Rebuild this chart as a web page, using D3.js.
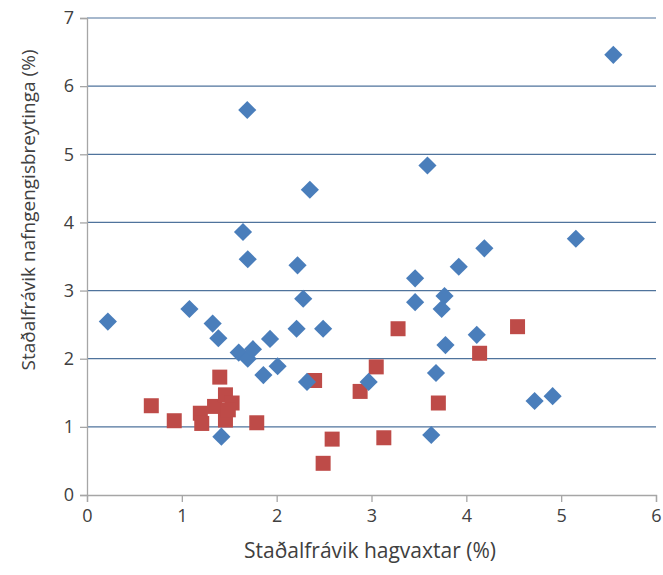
<!doctype html>
<html>
<head>
<meta charset="utf-8">
<script src="https://cdn.jsdelivr.net/npm/d3@7"></script>
<style>
  body { margin: 0; background: #fff; }
  text { font-family: "Open Sans", sans-serif; fill: #404040; }
</style>
</head>
<body>
<svg id="chart" width="663" height="575"></svg>
<script>
  // blue series (diamonds)
  var blueX = [0.22, 1.08, 1.325, 1.385, 1.417, 1.60, 1.695, 1.75, 1.93, 2.01, 1.86, 1.695, 2.22, 2.28, 2.21, 2.49, 2.32,
               1.69, 2.35, 1.645, 5.55, 3.59, 5.155, 4.19, 3.92, 3.46, 3.77, 3.46, 3.74, 4.11, 3.78, 3.68, 2.97, 4.72, 4.91, 3.63];
  var blueY = [2.545, 2.73, 2.515, 2.30, 0.856, 2.09, 2.00, 2.14, 2.29, 1.89, 1.76, 3.46, 3.37, 2.88, 2.44, 2.44, 1.66,
               5.65, 4.48, 3.86, 6.46, 4.835, 3.76, 3.62, 3.35, 3.18, 2.92, 2.83, 2.73, 2.35, 2.20, 1.79, 1.66, 1.38, 1.45, 0.88];

  // red series (squares)
  var redX = [0.678, 0.92, 1.40, 1.195, 1.21, 1.345, 1.46, 1.53, 1.46, 1.49, 1.79, 2.40, 2.585, 2.49, 2.88,
              3.28, 4.54, 4.14, 3.05, 3.705, 3.13];
  var redY = [1.31, 1.09, 1.73, 1.20, 1.05, 1.30, 1.47, 1.35, 1.10, 1.25, 1.06, 1.68, 0.82, 0.465, 1.52,
              2.44, 2.47, 2.08, 1.88, 1.35, 0.84];

  var xTicks = [0, 1, 2, 3, 4, 5, 6];
  var yTicks = [0, 1, 2, 3, 4, 5, 6, 7];

  var xTitle = "Staðalfrávik hagvaxtar (%)";
  var yTitle = "Staðalfrávik nafngengisbreytinga (%)";

  var margin = { left: 87, right: 7, top: 18, bottom: 80 };
  var width = 663, height = 575;

  var svg = d3.select("#chart");

  var x = d3.scaleLinear().domain([0, 6]).range([margin.left, width - margin.right]);
  var y = d3.scaleLinear().domain([0, 7]).range([height - margin.bottom, margin.top]);

  // gridlines
  svg.append("g")
    .selectAll("line")
    .data(yTicks.filter(function (d) { return d > 0; }))
    .enter().append("line")
    .attr("x1", x(0)).attr("x2", x(6))
    .attr("y1", function (d) { return y(d); })
    .attr("y2", function (d) { return y(d); })
    .attr("stroke", "#4f739c")
    .attr("stroke-width", 1.2);

  // axes
  var xAxis = svg.append("g")
    .attr("transform", "translate(0," + y(0) + ")")
    .call(d3.axisBottom(x).tickValues(xTicks).tickFormat(d3.format("d")).tickSize(7).tickPadding(7));
  var yAxis = svg.append("g")
    .attr("transform", "translate(" + x(0) + ",0)")
    .call(d3.axisLeft(y).tickValues(yTicks).tickFormat(d3.format("d")).tickSize(7).tickPadding(6));

  [xAxis, yAxis].forEach(function (a) {
    a.select(".domain").attr("stroke", "#a6a6a6").attr("stroke-width", 1.3);
    a.selectAll(".tick line").attr("stroke", "#a6a6a6").attr("stroke-width", 1.3);
    a.selectAll(".tick text").style("font-family", "'Open Sans', sans-serif")
      .style("font-size", "18px").attr("fill", "#404040");
  });

  // red squares
  var redData = redX.map(function (v, i) { return [v, redY[i]]; });
  svg.append("g")
    .selectAll("path")
    .data(redData)
    .enter().append("path")
    .attr("d", d3.symbol(d3.symbolSquare, 225))
    .attr("transform", function (d) { return "translate(" + x(d[0]) + "," + y(d[1]) + ")"; })
    .attr("fill", "#be4b48");

  // blue diamonds
  var blueData = blueX.map(function (v, i) { return [v, blueY[i]]; });
  svg.append("g")
    .selectAll("path")
    .data(blueData)
    .enter().append("path")
    .attr("d", d3.symbol(d3.symbolSquare, 165))
    .attr("transform", function (d) { return "translate(" + x(d[0]) + "," + y(d[1]) + ") rotate(45)"; })
    .attr("fill", "#4a7ebb");

  // axis titles
  svg.append("text")
    .attr("x", 370).attr("y", 558)
    .attr("text-anchor", "middle")
    .style("font-size", "21px")
    .text(xTitle);

  svg.append("text")
    .attr("transform", "translate(35,210) rotate(-90)")
    .attr("text-anchor", "middle")
    .style("font-size", "19px")
    .text(yTitle);
</script>
</body>
</html>
